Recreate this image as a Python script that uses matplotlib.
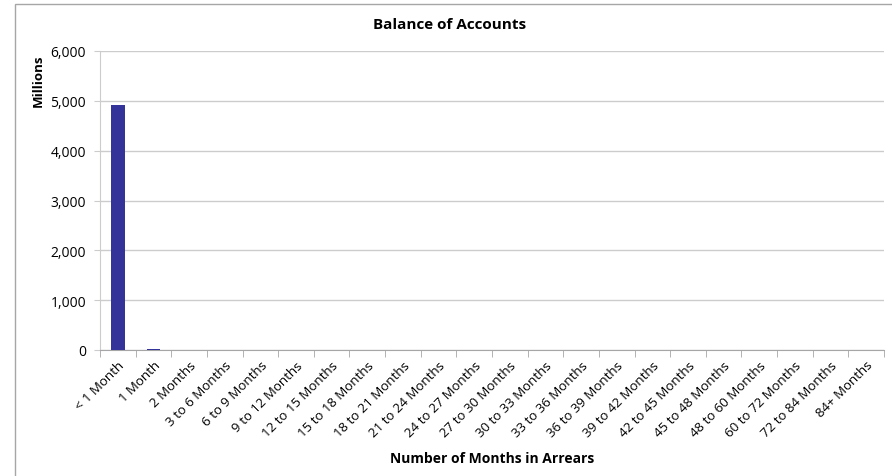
import matplotlib
matplotlib.use("Agg")
import matplotlib.pyplot as plt
from matplotlib.patches import Rectangle
import numpy as np

categories = ["< 1 Month", "1 Month", "2 Months", "3 to 6 Months", "6 to 9 Months",
              "9 to 12 Months", "12 to 15 Months", "15 to 18 Months", "18 to 21 Months",
              "21 to 24 Months", "24 to 27 Months", "27 to 30 Months", "30 to 33 Months",
              "33 to 36 Months", "36 to 39 Months", "39 to 42 Months", "42 to 45 Months",
              "45 to 48 Months", "48 to 60 Months", "60 to 72 Months", "72 to 84 Months",
              "84+ Months"]
balance_millions = [4920, 25, 4, 8, 2, 1, 1, 1, 0.5, 0.5, 0.5, 0.5, 0.5, 0.5, 0.5, 0.5,
                    0.5, 0.5, 0.5, 0.5, 0.5, 0.5]
yticks = [0, 1000, 2000, 3000, 4000, 5000, 6000]

plt.rcParams['font.family'] = ['Open Sans', 'DejaVu Sans']

W, H = 892, 477
fig = plt.figure(figsize=(W / 100, H / 100), dpi=100)

# chart-area border
fig.patches.append(Rectangle((15 / W, -0.1), 1.2, (H - 5) / H + 0.1, transform=fig.transFigure,
                             fill=False, edgecolor="#a6a6a6", linewidth=1.0, zorder=0))

ax = fig.add_axes([100 / W, 1 - 351 / H, 784 / W, 299 / H])
x = np.arange(len(categories))
ax.bar(x, balance_millions, width=0.39, color="#333399", zorder=3)

ax.set_xlim(-0.5, len(categories) - 0.5)
ax.set_ylim(0, 6000)
ax.set_yticks(yticks)
ax.set_yticklabels([f"{v:,}" for v in yticks], fontsize=10)
ax.grid(axis="y", color="#cccccc", linewidth=1.0, zorder=0)
ax.set_axisbelow(True)

ax.set_xticks(x)
ax.set_xticklabels(categories, rotation=45, ha="right", rotation_mode="anchor", fontsize=9.5)
ax.set_xticks(np.arange(len(categories) + 1) - 0.5, minor=True)
ax.tick_params(axis="x", which="major", length=0, pad=6)
ax.tick_params(axis="x", which="minor", length=5, color="#a6a6a6", direction="out")
ax.tick_params(axis="y", length=4, color="#cccccc", pad=6)

for s in ["top", "right"]:
    ax.spines[s].set_visible(False)
ax.spines["left"].set_color("#cccccc")
ax.spines["bottom"].set_color("#a6a6a6")

fig.text(450 / W, 1 - 25 / H, "Balance of Accounts", ha="center", va="center",
         fontsize=11, fontweight="bold")
fig.text(38 / W, 1 - 81 / H, "Millions", ha="center", va="center", rotation=90,
         fontsize=9.5, fontweight="bold")
fig.text(492 / W, 1 - 459 / H, "Number of Months in Arrears", ha="center", va="center",
         fontsize=10, fontweight="bold")

fig.savefig("out.png", dpi=100)
